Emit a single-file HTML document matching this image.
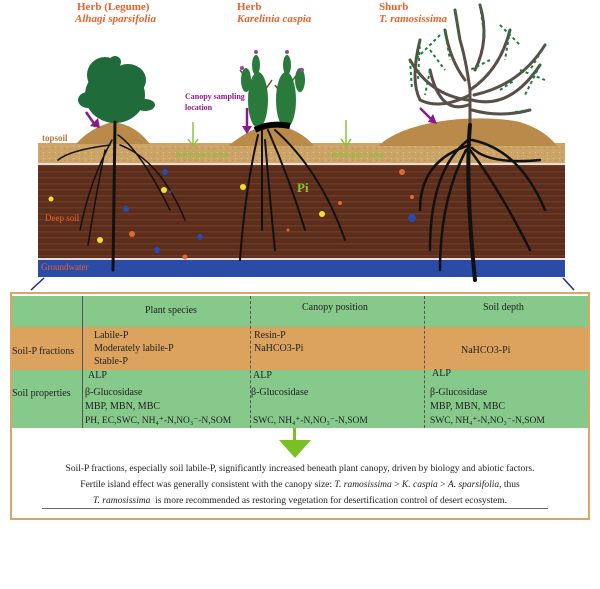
<!DOCTYPE html>
<html><head><meta charset="utf-8"><style>
body{margin:0;background:#fff;width:600px;height:589px;overflow:hidden;position:relative;font-family:"Liberation Serif",serif}
.t{position:absolute;white-space:nowrap;font-size:10px;color:#222}
.lab{position:absolute;white-space:nowrap;font-weight:bold;font-size:11px;color:#e8622a}
</style></head><body>
<svg width="600" height="300" style="position:absolute;left:0;top:0" xmlns="http://www.w3.org/2000/svg">
<defs>
<pattern id="ds" width="12" height="6" patternUnits="userSpaceOnUse"><rect width="12" height="6" fill="#5b2d1c"/><rect y="3" width="12" height="1.5" fill="#6e3a24"/></pattern>
<pattern id="ts" width="6" height="6" patternUnits="userSpaceOnUse"><rect width="6" height="6" fill="#cda468"/><rect x="1" y="2" width="1" height="1" fill="#e2c08a"/><rect x="4" y="4" width="1" height="1" fill="#b88c50"/></pattern>
</defs>
<rect x="38" y="143" width="527" height="21" fill="url(#ts)"/>
<rect x="38" y="163" width="527" height="2" fill="#e8e0d8"/>
<rect x="38" y="165" width="527" height="94" fill="url(#ds)"/>
<rect x="38" y="258" width="527" height="2" fill="#e8e0d8"/>
<rect x="38" y="260" width="527" height="17" fill="#2b4ca6"/>
<line x1="44" y1="278" x2="31" y2="290" stroke="#1a2a8a" stroke-width="1.5"/>
<line x1="563" y1="278" x2="574" y2="290" stroke="#1a2a8a" stroke-width="1.5"/>
<path d="M76 144 Q90 128 112 122 Q135 124 150 144Z" fill="#b98a4a"/>
<path d="M228 146 Q250 128 270 124 Q300 128 314 146Z" fill="#b98a4a"/>
<path d="M378 146 Q400 126 450 120 Q490 116 520 122 Q545 130 557 146Z" fill="#b98a4a"/>
<g fill="#1f6b3a">
<ellipse cx="115" cy="95" rx="30" ry="28"/><ellipse cx="105" cy="75" rx="18" ry="18"/><ellipse cx="128" cy="80" rx="18" ry="16"/><ellipse cx="115" cy="62" rx="6" ry="6"/><ellipse cx="145" cy="105" rx="10" ry="6"/><ellipse cx="88" cy="100" rx="10" ry="8"/>
</g>
<g stroke="#6b4a2a" stroke-width="1.5" fill="none"><path d="M262 130 L256 55 M256 90 L240 70 M258 100 L272 80"/><path d="M285 128 L287 55 M286 90 L300 70 M286 100 L275 85"/></g>
<g fill="#2a7a3c">
<ellipse cx="258" cy="100" rx="10" ry="28"/><ellipse cx="286" cy="100" rx="10" ry="28"/><ellipse cx="246" cy="80" rx="5" ry="12"/><ellipse cx="300" cy="80" rx="5" ry="12"/><ellipse cx="256" cy="65" rx="4" ry="10"/><ellipse cx="287" cy="65" rx="4" ry="10"/>
</g>
<g fill="#a040a0"><circle cx="256" cy="52" r="2"/><circle cx="287" cy="52" r="2"/><circle cx="242" cy="68" r="2"/><circle cx="302" cy="70" r="2"/></g>
<path d="M255 130 Q270 122 290 126" stroke="#000" stroke-width="6" fill="none"/>
<g stroke="#5a4e48" stroke-width="3" fill="none" stroke-linecap="round">
<path d="M470 125 L470 90 Q466 60 460 40 L455 10"/>
<path d="M470 95 Q440 110 420 100 Q410 80 420 40"/>
<path d="M468 105 Q440 115 430 70"/>
<path d="M470 90 Q500 70 510 30"/>
<path d="M472 100 Q510 110 540 65"/>
<path d="M472 110 Q500 118 530 110"/>
<path d="M465 80 Q450 60 445 30"/>
<path d="M475 70 Q490 40 480 5"/>
<path d="M468 100 Q430 95 410 60"/>
<path d="M474 95 Q520 85 545 45"/>
</g>
<g stroke="#1f7a3a" stroke-width="2" fill="none" stroke-dasharray="3 3">
<path d="M420 40 L418 80 M445 30 L450 60 M455 10 L460 40 M480 5 L485 40 M510 30 L505 60 M540 65 L525 95 M530 110 L515 112 M430 70 L425 95 M440 35 L415 60 M500 25 L520 45 M520 70 L545 80 M410 60 L412 90 M545 45 L530 70 M490 60 L470 70 M430 50 L445 70 M500 90 L515 80"/>
</g>
<g stroke="#111" fill="none" stroke-linecap="round">
<path d="M115 122 L113 270" stroke-width="3"/>
<path d="M112 140 Q90 180 80 230 M118 135 Q140 150 170 210 M110 145 Q70 150 58 160 M120 145 Q160 160 185 220 M105 150 Q95 200 88 245" stroke-width="1.5"/>
<path d="M262 130 L262 230 M268 130 Q290 180 305 230 M275 130 Q320 170 345 240 M258 135 Q245 190 240 260 M265 140 Q270 200 275 250" stroke-width="2"/>
<path d="M470 125 Q465 180 475 280" stroke-width="4"/>
<path d="M468 140 Q430 170 430 250 M472 140 Q520 150 545 210 M470 150 Q500 190 530 250 M466 150 Q440 200 440 270 M470 145 Q420 160 420 210 M472 148 Q490 165 540 160" stroke-width="2.5"/>
</g>
<g><circle cx="165" cy="172" r="3" fill="#2a4ab0"/><circle cx="164" cy="190" r="3" fill="#f2e030"/><circle cx="51" cy="199" r="2.5" fill="#f2e030"/><circle cx="126" cy="209" r="3" fill="#2a4ab0"/><circle cx="132" cy="234" r="3" fill="#e06a30"/><circle cx="100" cy="240" r="3" fill="#f2e030"/><circle cx="200" cy="237" r="3" fill="#2a4ab0"/><circle cx="157" cy="250" r="3" fill="#2a4ab0"/><circle cx="185" cy="257" r="2.5" fill="#e06a30"/><circle cx="243" cy="187" r="3" fill="#f2e030"/><circle cx="322" cy="214" r="3" fill="#f2e030"/><circle cx="402" cy="172" r="3" fill="#e06a30"/><circle cx="412" cy="218" r="4" fill="#2a4ab0"/><circle cx="412" cy="197" r="2" fill="#e06a30"/><circle cx="170" cy="192" r="1.5" fill="#2a4ab0"/><circle cx="340" cy="203" r="2" fill="#e06a30"/><circle cx="288" cy="230" r="1.5" fill="#e06a30"/></g>
<g stroke="#8a1a8a" stroke-width="2.5" fill="#8a1a8a"><line x1="86" y1="112" x2="95" y2="125"/><line x1="247" y1="108" x2="247" y2="128"/><line x1="420" y1="108" x2="432" y2="120"/></g>
<g fill="#8a1a8a"><polygon points="90,126 100,128 98,118"/><polygon points="242,126 252,126 247,134"/><polygon points="428,122 437,124 433,114"/></g>
<g stroke="#8ac23a" stroke-width="1.5"><line x1="193" y1="122" x2="193" y2="145"/><line x1="346" y1="120" x2="346" y2="145"/></g>
<g fill="none" stroke="#8ac23a" stroke-width="1.5"><polyline points="188,139 193,146 198,139"/><polyline points="341,139 346,146 351,139"/></g>
</svg>
<div class="lab" style="left:77px;top:1px">Herb (Legume)</div>
<div class="lab" style="left:75px;top:13px;font-style:italic">Alhagi sparsifolia</div>
<div class="lab" style="left:237px;top:1px">Herb</div>
<div class="lab" style="left:237px;top:13px;font-style:italic">Karelinia caspia</div>
<div class="lab" style="left:379px;top:1px">Shurb</div>
<div class="lab" style="left:379px;top:13px;font-style:italic">T. ramosissima</div>
<div class="t" style="left:185px;top:91px;color:#8a1a8a;font-weight:bold;font-size:8px;line-height:11px">Canopy sampling<br>location</div>
<div class="t" style="left:42px;top:133px;color:#b07a40;font-weight:bold;font-size:9px">topsoil</div>
<div class="t" style="left:175px;top:150px;color:#8ac23a;font-weight:bold;font-size:8px">Interspace area</div>
<div class="t" style="left:331px;top:150px;color:#8ac23a;font-weight:bold;font-size:8px">Interspace area</div>
<div class="t" style="left:45px;top:213px;color:#e8622a;font-size:9px">Deep soil</div>
<div class="t" style="left:41px;top:262px;color:#e8622a;font-size:9px">Groundwater</div>
<div class="t" style="left:297px;top:180px;color:#8ac23a;font-weight:bold;font-size:13px">Pi</div>

<div style="position:absolute;left:10px;top:292px;width:576px;height:224px;border:2px solid #dca46a;background:#fff"></div>
<div style="position:absolute;left:12px;top:296px;width:576px;height:31px;background:#86c98a"></div>
<div style="position:absolute;left:12px;top:327px;width:576px;height:43px;background:#dca35e"></div>
<div style="position:absolute;left:12px;top:370px;width:576px;height:58px;background:#86c98a"></div>
<div style="position:absolute;left:82px;top:296px;width:1px;height:132px;background:#555"></div>
<div style="position:absolute;left:250px;top:296px;height:132px;border-left:1px dashed #555"></div>
<div style="position:absolute;left:424px;top:296px;height:132px;border-left:1px dashed #555"></div>
<div class="t" style="left:145px;top:305px">Plant species</div>
<div class="t" style="left:302px;top:302px">Canopy position</div>
<div class="t" style="left:483px;top:302px">Soil depth</div>
<div class="t" style="left:12px;top:346px">Soil-P fractions</div>
<div class="t" style="left:94px;top:329px;line-height:13px">Labile-P<br>Moderately labile-P<br>Stable-P</div>
<div class="t" style="left:254px;top:329px;line-height:13px">Resin-P<br>NaHCO3-Pi</div>
<div class="t" style="left:461px;top:345px">NaHCO3-Pi</div>
<div class="t" style="left:12px;top:388px">Soil properties</div>
<div class="t" style="left:88px;top:370px">ALP</div>
<div class="t" style="left:85px;top:387px">β-Glucosidase</div>
<div class="t" style="left:85px;top:401px">MBP, MBN, MBC</div>
<div class="t" style="left:85px;top:415px;font-size:9.5px">PH, EC,SWC, NH₄⁺-N,NO₃⁻-N,SOM</div>
<div class="t" style="left:253px;top:370px">ALP</div>
<div class="t" style="left:251px;top:387px">β-Glucosidase</div>
<div class="t" style="left:253px;top:415px;font-size:9.5px">SWC, NH₄⁺-N,NO₃⁻-N,SOM</div>
<div class="t" style="left:432px;top:368px">ALP</div>
<div class="t" style="left:430px;top:387px">β-Glucosidase</div>
<div class="t" style="left:430px;top:401px">MBP, MBN, MBC</div>
<div class="t" style="left:430px;top:415px;font-size:9.5px">SWC, NH₄⁺-N,NO₃⁻-N,SOM</div>
<div style="position:absolute;left:293px;top:428px;width:3px;height:12px;background:#7cbf22"></div>
<div style="position:absolute;left:279px;top:440px;width:0;height:0;border-left:16px solid transparent;border-right:16px solid transparent;border-top:18px solid #7cbf22"></div>
<div class="t" style="left:0;width:600px;text-align:center;top:461px;line-height:16px;font-size:9.5px">Soil-P fractions, especially soil labile-P, significantly increased beneath plant canopy, driven by biology and abiotic factors.<br>Fertile island effect was generally consistent with the canopy size: <i>T. ramosissima</i> &gt; <i>K. caspia</i> &gt; <i>A. sparsifolia,</i> thus<br><i>T. ramosissima</i>&nbsp; is more recommended as restoring vegetation for desertification control of desert ecosystem.</div>
<div style="position:absolute;left:42px;top:508px;width:506px;height:1px;background:#666"></div>
</body></html>
